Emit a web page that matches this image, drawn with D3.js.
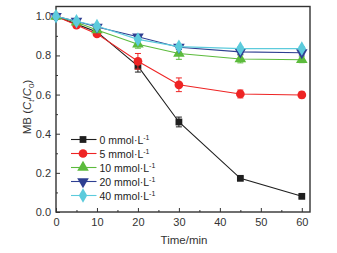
<!DOCTYPE html>
<html>
<head>
<meta charset="utf-8">
<script src="https://cdn.jsdelivr.net/npm/d3@7"></script>
<style>
  body { margin: 0; background: #fff; }
  svg { display: block; font-family: "Liberation Sans", Arial, sans-serif; }
</style>
</head>
<body>
<div id="chart"></div>
<script>
// --- Data ---
const times = [0, 5, 10, 20, 30, 45, 60];
const seriesNames = ["0 mmol·L", "5 mmol·L", "10 mmol·L", "20 mmol·L", "40 mmol·L"];
const c0 = [1.0, 0.96, 0.92, 0.745, 0.46, 0.172, 0.08];
const c5 = [1.0, 0.955, 0.91, 0.77, 0.65, 0.603, 0.598];
const c10 = [1.0, 0.97, 0.93, 0.857, 0.81, 0.782, 0.778];
const c20 = [1.0, 0.975, 0.945, 0.895, 0.842, 0.818, 0.814];
const c40 = [1.0, 0.975, 0.95, 0.882, 0.845, 0.835, 0.835];
const err0 = [0, 0.01, 0.01, 0.03, 0.025, 0.008, 0.008];
const err5 = [0, 0.01, 0.01, 0.04, 0.035, 0.02, 0.015];
const err10 = [0, 0.01, 0.01, 0.02, 0.03, 0.02, 0.015];
const err20 = [0, 0.01, 0.01, 0.01, 0.012, 0.012, 0.012];
const err40 = [0, 0.01, 0.01, 0.01, 0.01, 0.01, 0.01];
const xTicks = [0, 10, 20, 30, 40, 50, 60];
const yTicks = [0.0, 0.2, 0.4, 0.6, 0.8, 1.0];

const width = 337, height = 253;
const margin = { top: 6.5, right: 27, bottom: 41, left: 56 };

const colors = ["#1f1f1f", "#ee2424", "#5cbb3c", "#2e3f92", "#5ccbdc"];
const symbols = [d3.symbolSquare, d3.symbolCircle, d3.symbolTriangle, d3.symbolTriangle, d3.symbolDiamond];
const sizes = [46, 60, 58, 58, 60];
const rotations = [0, 0, 0, 180, 0];

const series = [c0, c5, c10, c20, c40].map((vals, i) => ({
  name: seriesNames[i],
  color: colors[i],
  points: vals.map((v, j) => ({ t: times[j], v: v, e: [err0, err5, err10, err20, err40][i][j] }))
}));

const svg = d3.select("#chart").append("svg")
  .attr("width", width).attr("height", height);

const x = d3.scaleLinear().domain([0, 62]).range([margin.left, width - margin.right]);
const y = d3.scaleLinear().domain([0, 1.05]).range([height - margin.bottom, margin.top]);

// --- Axes (ticks inward) ---
const axisColor = "#333";
svg.append("g")
  .attr("transform", `translate(0,${height - margin.bottom})`)
  .call(d3.axisBottom(x).tickValues(d3.range(5, 62, 10)).tickSize(-2).tickFormat(""))
  .call(g => g.select(".domain").remove());
svg.append("g")
  .attr("transform", `translate(0,${height - margin.bottom})`)
  .call(d3.axisBottom(x).tickValues(xTicks).tickSize(-4).tickPadding(6).tickFormat(d3.format("d")))
  .call(g => g.select(".domain").remove());
svg.append("g")
  .attr("transform", `translate(${margin.left},0)`)
  .call(d3.axisLeft(y).tickValues([0.1, 0.3, 0.5, 0.7, 0.9]).tickSize(-2).tickFormat(""))
  .call(g => g.select(".domain").remove());
svg.append("g")
  .attr("transform", `translate(${margin.left},0)`)
  .call(d3.axisLeft(y).tickValues(yTicks).tickSize(-4).tickPadding(5).tickFormat(d3.format(".1f")))
  .call(g => g.select(".domain").remove());

svg.selectAll(".tick line").attr("stroke", axisColor);
svg.selectAll(".tick text").attr("fill", "#333").style("font-size", "11px")
  .style("font-family", "Liberation Sans, Arial, sans-serif");

svg.append("rect")
  .attr("x", margin.left).attr("y", margin.top)
  .attr("width", width - margin.right - margin.left)
  .attr("height", height - margin.bottom - margin.top)
  .attr("fill", "none").attr("stroke", axisColor).attr("stroke-width", 1.4);

// --- Series ---
const line = d3.line().x(d => x(d.t)).y(d => y(d.v));

series.forEach((s, i) => {
  const g = svg.append("g");
  g.append("path").datum(s.points)
    .attr("d", line).attr("fill", "none")
    .attr("stroke", s.color).attr("stroke-width", 1.1);

  const eb = g.selectAll(".err").data(s.points.filter(d => d.e > 0)).enter().append("g");
  eb.append("line")
    .attr("x1", d => x(d.t)).attr("x2", d => x(d.t))
    .attr("y1", d => y(d.v - d.e)).attr("y2", d => y(d.v + d.e))
    .attr("stroke", s.color).attr("stroke-width", 1);
  [-1, 1].forEach(k => {
    eb.append("line")
      .attr("x1", d => x(d.t) - 3).attr("x2", d => x(d.t) + 3)
      .attr("y1", d => y(d.v + k * d.e)).attr("y2", d => y(d.v + k * d.e))
      .attr("stroke", s.color).attr("stroke-width", 1);
  });

  g.selectAll(".pt").data(s.points).enter().append("path")
    .attr("d", d3.symbol().type(symbols[i]).size(sizes[i]))
    .attr("transform", d => `translate(${x(d.t)},${y(d.v)}) rotate(${rotations[i]})`)
    .attr("fill", s.color);
});

// --- Legend ---
const legend = svg.append("g");
series.forEach((s, i) => {
  const ly = 139.5 + i * 14;
  legend.append("line")
    .attr("x1", 71).attr("x2", 96.5).attr("y1", ly).attr("y2", ly)
    .attr("stroke", s.color).attr("stroke-width", 1.1);
  legend.append("path")
    .attr("d", d3.symbol().type(symbols[i]).size(sizes[i]))
    .attr("transform", `translate(83,${ly}) rotate(${rotations[i]})`)
    .attr("fill", s.color);
  const t = legend.append("text")
    .attr("x", 99.5).attr("y", ly + 4)
    .attr("fill", "#222").style("font-size", "10.5px")
    .text(s.name);
  t.append("tspan").attr("dy", -4).style("font-size", "7px").text("-1");
});

// --- Axis titles ---
svg.append("text")
  .attr("x", (margin.left + width - margin.right) / 2 + 1).attr("y", 244)
  .attr("text-anchor", "middle").attr("fill", "#333").style("font-size", "11.5px")
  .text("Time/min");

const yl = svg.append("text")
  .attr("transform", "translate(31,107) rotate(-90)")
  .attr("text-anchor", "middle").attr("fill", "#333").style("font-size", "11.5px");
yl.append("tspan").text("MB (");
yl.append("tspan").style("font-style", "italic").text("C");
yl.append("tspan").attr("dy", 3).style("font-size", "8px").style("font-style", "italic").text("t");
yl.append("tspan").attr("dy", -3).text("/");
yl.append("tspan").style("font-style", "italic").text("C");
yl.append("tspan").attr("dy", 3).style("font-size", "8px").text("0");
yl.append("tspan").attr("dy", -3).text(")");
</script>
</body>
</html>
